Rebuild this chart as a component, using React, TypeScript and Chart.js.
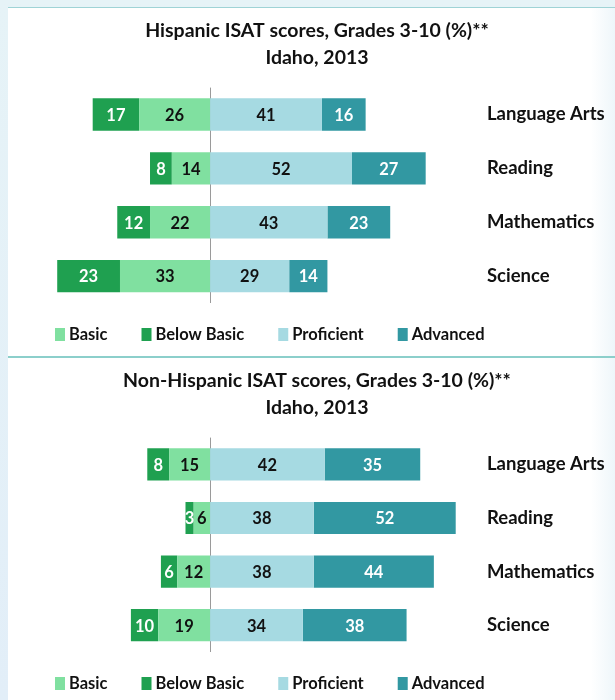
import React, { useEffect, useRef } from "react";
import { Chart, registerables } from "chart.js";

Chart.register(...registerables);

// ---------- data ----------
const subjects = ["Language Arts", "Reading", "Mathematics", "Science"];
const seriesNames = ["Basic", "Below Basic", "Proficient", "Advanced"];
const seriesColors = ["#80E0A0", "#1FA050", "#A6DAE2", "#3298A2"];
const valueTextColors = ["#111111", "#FFFFFF", "#111111", "#FFFFFF"];

const hispanicBasic = [26, 14, 22, 33];
const hispanicBelowBasic = [17, 8, 12, 23];
const hispanicProficient = [41, 52, 43, 29];
const hispanicAdvanced = [16, 27, 23, 14];

const nonHispanicBasic = [15, 6, 12, 19];
const nonHispanicBelowBasic = [8, 3, 6, 10];
const nonHispanicProficient = [42, 38, 38, 34];
const nonHispanicAdvanced = [35, 52, 44, 38];

const hispanicTitle = ["Hispanic ISAT scores, Grades 3-10 (%)**", "Idaho, 2013"];
const nonHispanicTitle = ["Non-Hispanic ISAT scores, Grades 3-10 (%)**", "Idaho, 2013"];

const FONT = "Lato, 'Open Sans', sans-serif";

// ---------- plugins ----------
const zeroLinePlugin = {
  id: "zeroLine",
  beforeDatasetsDraw(chart: any) {
    const { ctx, chartArea, scales } = chart;
    const x = Math.round(scales.x.getPixelForValue(0)) + 0.5;
    ctx.save();
    ctx.strokeStyle = "#9A9A9A";
    ctx.lineWidth = 1;
    ctx.beginPath();
    ctx.moveTo(x, chartArea.top);
    ctx.lineTo(x, chartArea.bottom);
    ctx.stroke();
    ctx.restore();
  },
};

const valueLabelPlugin = {
  id: "valueLabels",
  afterDatasetsDraw(chart: any) {
    const { ctx } = chart;
    ctx.save();
    ctx.font = `bold 16.5px ${FONT}`;
    ctx.textAlign = "center";
    ctx.textBaseline = "middle";
    chart.data.datasets.forEach((ds: any, di: number) => {
      const meta = chart.getDatasetMeta(di);
      meta.data.forEach((el: any, i: number) => {
        const v = ds.data[i];
        const cx = (el.x + el.base) / 2;
        ctx.fillStyle = valueTextColors[di];
        ctx.fillText(String(Math.abs(v)), cx, el.y + 1);
      });
    });
    ctx.restore();
  },
};

const customLegendPlugin = {
  id: "customLegend",
  afterDraw(chart: any) {
    const { ctx, chartArea } = chart;
    const y = chartArea.bottom + 31;
    let x = chartArea.left + 36;
    ctx.save();
    ctx.font = `bold 16.5px ${FONT}`;
    ctx.textBaseline = "middle";
    ctx.textAlign = "left";
    chart.data.datasets.forEach((ds: any) => {
      ctx.fillStyle = ds.backgroundColor;
      ctx.fillRect(x, y - 6, 10, 13);
      ctx.fillStyle = "#111111";
      ctx.fillText(ds.label, x + 14, y + 1);
      x += 14 + ctx.measureText(ds.label).width + 34;
    });
    ctx.restore();
  },
};

// ---------- chart component ----------
type PanelProps = {
  title: string[];
  basic: number[];
  belowBasic: number[];
  proficient: number[];
  advanced: number[];
  height: number;
  bottomPad: number;
};

function Panel({ title, basic, belowBasic, proficient, advanced, height, bottomPad }: PanelProps) {
  const ref = useRef<HTMLCanvasElement | null>(null);
  useEffect(() => {
    if (!ref.current) return;
    const values = [basic.map((v) => -v), belowBasic.map((v) => -v), proficient, advanced];
    const chart = new Chart(ref.current, {
      type: "bar",
      data: {
        labels: subjects,
        datasets: seriesNames.map((name, i) => ({
          label: name,
          data: values[i],
          backgroundColor: seriesColors[i],
          borderWidth: 0,
          categoryPercentage: 1,
          barPercentage: 0.6,
        })),
      },
      options: {
        indexAxis: "y",
        animation: false,
        responsive: true,
        maintainAspectRatio: false,
        layout: { padding: { left: 11, right: 0, top: 0, bottom: bottomPad } },
        scales: {
          x: {
            stacked: true,
            min: -70,
            max: 100,
            display: false,
          },
          y: {
            stacked: true,
            position: "right",
            grid: { display: false, drawTicks: false },
            border: { display: false },
            ticks: {
              padding: 4,
              color: "#111111",
              font: { family: FONT, size: 18.5, weight: "bold" },
            },
            afterFit: (s: any) => {
              s.width = 132;
            },
          },
        },
        plugins: {
          legend: { display: false },
          tooltip: { enabled: false },
          title: {
            display: true,
            text: title,
            color: "#111111",
            font: { family: FONT, size: 19.5, weight: "bold", lineHeight: 1.4 },
            padding: { top: 9, bottom: 16 },
          },
        },
      } as any,
      plugins: [zeroLinePlugin, valueLabelPlugin, customLegendPlugin],
    });
    return () => chart.destroy();
  }, []);
  return (
    <div style={{ position: "relative", width: 607, height }}>
      <canvas ref={ref} />
    </div>
  );
}

export default function App() {
  useEffect(() => {
    document.body.style.margin = "0";
    document.body.style.overflow = "hidden";
  }, []);
  return (
    <div
      style={{
        position: "relative",
        width: 615,
        height: 700,
        overflow: "hidden",
        background: "linear-gradient(180deg, #E6F3F7 0%, #E2EEF8 100%)",
      }}
    >
      <div
        style={{
          position: "absolute",
          left: 8,
          top: 7,
          width: 607,
          height: 693,
          borderTop: "1px solid #9FD3D6",
          background: "linear-gradient(90deg, #FFFFFF 0%, #FFFFFF 96%, #EEF6FA 100%)",
        }}
      >
        <Panel
          title={hispanicTitle}
          basic={hispanicBasic}
          belowBasic={hispanicBelowBasic}
          proficient={hispanicProficient}
          advanced={hispanicAdvanced}
          height={348}
          bottomPad={53}
        />
        <div style={{ width: 607, height: 2, background: "#8CCFCB" }} />
        <Panel
          title={nonHispanicTitle}
          basic={nonHispanicBasic}
          belowBasic={nonHispanicBelowBasic}
          proficient={nonHispanicProficient}
          advanced={nonHispanicAdvanced}
          height={342}
          bottomPad={48}
        />
      </div>
    </div>
  );
}
